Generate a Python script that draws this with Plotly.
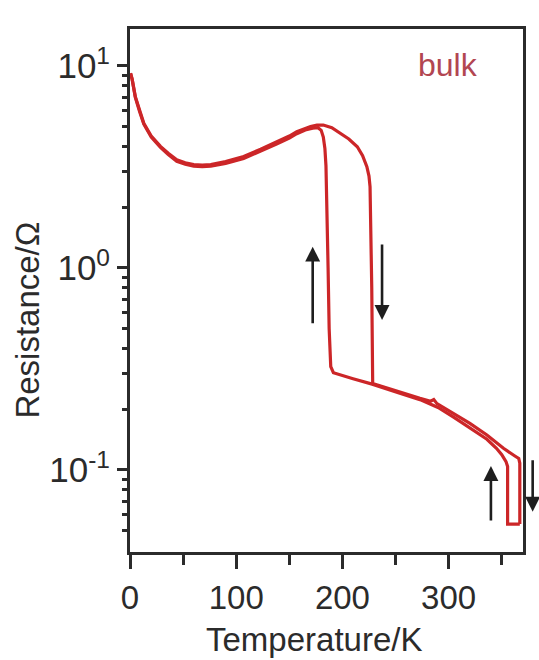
import plotly.graph_objects as go
import math

# Warming run: resistance (ohm) vs temperature (K)
heat_T = [0.5, 2, 5, 9, 13, 20, 28.7, 36, 44, 52, 60, 68, 76, 90, 107, 123, 138.5,
          150, 157, 165, 170, 176, 182, 190, 198, 206, 214, 219, 223, 225, 226,
          226.8, 227.6, 228.5, 240, 254, 273, 283, 286, 289, 305, 320, 336, 351.6,
          362.7, 366, 367, 367]
heat_R = [9.2, 8.6, 7.05, 6.0, 5.2, 4.5, 4.0, 3.7, 3.43, 3.32, 3.25, 3.23, 3.25,
          3.36, 3.56, 3.87, 4.22, 4.5, 4.73, 4.92, 5.02, 5.1, 5.1, 4.95, 4.64,
          4.35, 3.98, 3.6, 3.17, 2.85, 2.52, 1.5, 0.8, 0.268, 0.256, 0.243,
          0.2265, 0.219, 0.223, 0.213, 0.1905, 0.170, 0.149, 0.128, 0.117,
          0.114, 0.108, 0.054]

# Cooling run: resistance (ohm) vs temperature (K)
cool_T = [367, 355.5, 355.5, 354, 350, 345, 336, 320, 305, 290, 273, 254, 240,
          228, 210, 195, 191.5, 189, 187.5, 186.5, 185.5, 184.5, 183.5, 182, 180,
          177, 172, 165, 157, 150, 138.5, 123, 107, 90, 76, 68, 60, 52, 44, 36,
          28.7, 20, 13, 9, 5, 2, 0.5]
cool_R = [0.054, 0.054, 0.104, 0.110, 0.119, 0.128, 0.142, 0.162, 0.182, 0.204,
          0.223, 0.240, 0.254, 0.266, 0.283, 0.297, 0.303, 0.325, 0.5, 1.0, 2.0,
          3.2, 3.9, 4.45, 4.8, 4.95, 4.92, 4.82, 4.62, 4.4, 4.12, 3.78, 3.48,
          3.29, 3.19, 3.17, 3.19, 3.26, 3.37, 3.64, 3.95, 4.45, 5.15, 5.95, 7.0,
          8.6, 9.2]

x_ticks = [0, 100, 200, 300]
x_minor = [50, 150, 250, 350]
y_ticks = [0.1, 1, 10]
y_tick_text = ["10<sup>-1</sup>", "10<sup>0</sup>", "10<sup>1</sup>"]
y_minor = [0.05, 0.06, 0.07, 0.08, 0.09,
           0.2, 0.3, 0.4, 0.5, 0.6, 0.7, 0.8, 0.9,
           2, 3, 4, 5, 6, 7, 8, 9]

# Direction arrows: (T, R at arrow tip, pixel offset of tail)
arrow_T = [172, 237.3, 339.8]
arrow_R = [1.275, 0.553, 0.1047]
arrow_tail = [78, -77, 56]

LINE = "#cc2628"
INK = "#2b2b2b"
FONT = "Liberation Sans, Arial, sans-serif"

fig = go.Figure()
for T, R in ((heat_T, heat_R), (cool_T, cool_R)):
    fig.add_trace(go.Scatter(x=T, y=R, mode="lines",
                             line=dict(color=LINE, width=3.2),
                             showlegend=False, hoverinfo="skip"))

for T, R, tail in zip(arrow_T, arrow_R, arrow_tail):
    fig.add_annotation(x=T, y=math.log10(R), xref="x", yref="y",
                       axref="pixel", ayref="pixel", ax=0, ay=tail,
                       text="", showarrow=True, arrowhead=2, arrowsize=1.15,
                       arrowwidth=2.6, arrowcolor="#1e1e1e", standoff=0)
# warming arrow just beyond the right frame
fig.add_annotation(x=1.0246, y=math.log10(0.0622), xref="paper", yref="y",
                   axref="pixel", ayref="pixel", ax=0, ay=-53,
                   text="", showarrow=True, arrowhead=2, arrowsize=1.15,
                   arrowwidth=2.6, arrowcolor="#1e1e1e", standoff=0)

fig.add_annotation(x=0.8085, y=0.931, xref="paper", yref="paper",
                   xanchor="center", yanchor="middle",
                   text="bulk", showarrow=False,
                   font=dict(family=FONT, size=32, color="#b24651"))
fig.add_annotation(x=0.468, y=-0.167, xref="paper", yref="paper",
                   xanchor="center", yanchor="middle",
                   text="Temperature/K", showarrow=False,
                   font=dict(family=FONT, size=33, color=INK))
fig.add_annotation(x=-0.2605, y=0.4436, xref="paper", yref="paper",
                   xanchor="center", yanchor="middle",
                   text="Resistance/Ω", textangle=-90, showarrow=False,
                   font=dict(family=FONT, size=33, color=INK))

fig.update_xaxes(range=[0, 370], tickmode="array", tickvals=x_ticks,
                 ticks="outside", ticklen=14, tickwidth=3, tickcolor=INK,
                 showline=True, linewidth=3, linecolor=INK, mirror=True,
                 showgrid=False, zeroline=False,
                 tickfont=dict(family=FONT, size=33, color=INK),
                 minor=dict(tickmode="array", tickvals=x_minor, ticks="outside",
                            ticklen=10, tickwidth=3, tickcolor=INK, showgrid=False))
fig.update_yaxes(type="log", range=[-1.406, 1.183], tickmode="array",
                 tickvals=y_ticks, ticktext=y_tick_text,
                 ticks="outside", ticklen=10, tickwidth=3, tickcolor=INK,
                 showline=True, linewidth=3, linecolor=INK, mirror=True,
                 showgrid=False, zeroline=False,
                 tickfont=dict(family=FONT, size=35, color=INK),
                 minor=dict(tickmode="array", tickvals=y_minor, ticks="outside",
                            ticklen=5, tickwidth=2.5, tickcolor=INK, showgrid=False))

fig.update_layout(width=539, height=660,
                  margin=dict(l=129.5, r=16, t=29, b=108),
                  paper_bgcolor="white", plot_bgcolor="white")

fig.write_html("out.html")
